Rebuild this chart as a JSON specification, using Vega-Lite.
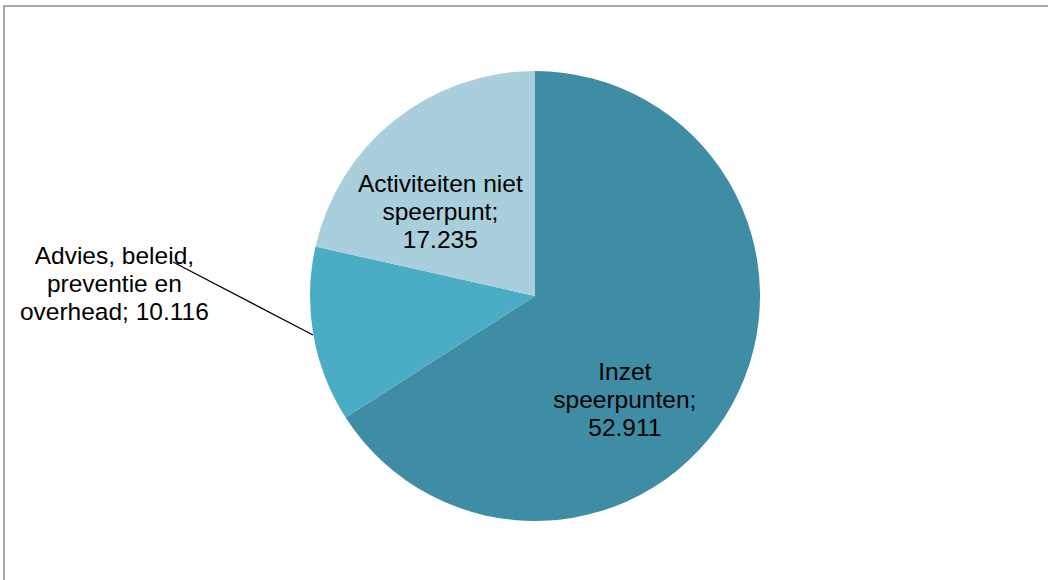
{
  "$schema": "https://vega.github.io/schema/vega-lite/v6.json",
  "autosize": "none",
  "width": 1050,
  "height": 578,
  "padding": {"left": 4, "top": 6, "right": -6, "bottom": -4},
  "background": "white",
  "config": {
    "view": {"stroke": "#8c8c8c", "strokeWidth": 1.5},
    "text": {"font": "Liberation Sans", "fontSize": 24.5, "lineHeight": 28, "color": "black"}
  },
  "data": {
    "values": [
      {"nr": 1, "categorie": "Inzet speerpunten", "label": "Inzet\nspeerpunten;\n52.911", "waarde": 52911},
      {"nr": 2, "categorie": "Advies, beleid, preventie en overhead", "label": "Advies, beleid,\npreventie en\noverhead; 10.116", "waarde": 10116},
      {"nr": 3, "categorie": "Activiteiten niet speerpunt", "label": "Activiteiten niet\nspeerpunt;\n17.235", "waarde": 17235}
    ]
  },
  "encoding": {
    "theta": {"field": "waarde", "type": "quantitative", "stack": true},
    "order": {"field": "nr", "type": "ordinal"}
  },
  "layer": [
    {
      "mark": {"type": "arc", "outerRadius": 225, "xOffset": 6, "yOffset": 1, "stroke": null},
      "encoding": {
        "color": {
          "field": "categorie",
          "type": "nominal",
          "scale": {
            "domain": ["Inzet speerpunten", "Advies, beleid, preventie en overhead", "Activiteiten niet speerpunt"],
            "range": ["#3E8DA5", "#4BACC6", "#A9CEDC"]
          },
          "legend": null
        }
      }
    },
    {
      "mark": {"type": "text", "lineBreak": "\n", "align": "center", "baseline": "middle", "xOffset": 6, "yOffset": 1, "dx": -33, "dy": 10},
      "encoding": {
        "radius": {"value": 140},
        "text": {"condition": {"test": "datum.nr == 1", "field": "label"}, "value": ""}
      }
    },
    {
      "mark": {"type": "text", "lineBreak": "\n", "align": "center", "baseline": "middle", "xOffset": 6, "yOffset": 1, "dx": -6, "dy": -112},
      "encoding": {
        "radius": {"value": 421},
        "text": {"condition": {"test": "datum.nr == 2", "field": "label"}, "value": ""}
      }
    },
    {
      "mark": {"type": "text", "lineBreak": "\n", "align": "center", "baseline": "middle", "xOffset": 6, "yOffset": 1, "dx": -16, "dy": -13},
      "encoding": {
        "radius": {"value": 126},
        "text": {"condition": {"test": "datum.nr == 3", "field": "label"}, "value": ""}
      }
    },
    {
      "data": {"values": [{"lijn": "Advies"}]},
      "mark": {"type": "rule", "color": "black", "strokeWidth": 1.3},
      "encoding": {
        "theta": null,
        "order": null,
        "x": {"value": 309},
        "y": {"value": 329},
        "x2": {"value": 169},
        "y2": {"value": 256}
      }
    }
  ]
}
